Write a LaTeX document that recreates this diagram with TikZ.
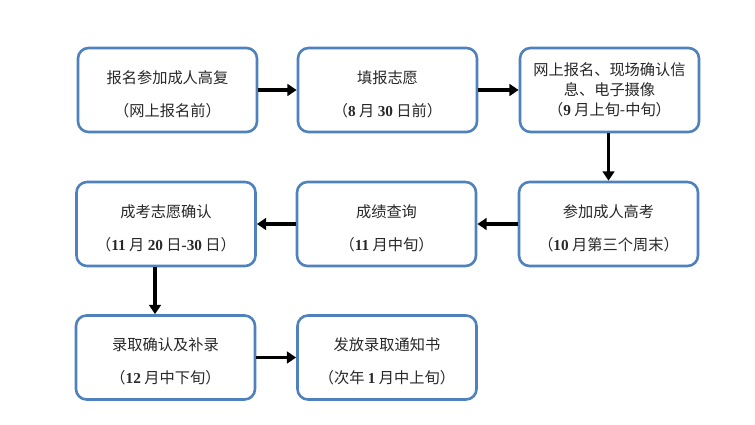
\documentclass[tikz,border=0pt]{standalone}
\usepackage{fontspec}
\setmainfont{Noto Sans CJK SC}
\newfontfamily\numfont{Liberation Serif}
\usepackage{tikz}
\usetikzlibrary{positioning, shapes, arrows.meta, calc}
\definecolor{BoxBlue}{RGB}{79, 129, 189}
\definecolor{TextGray}{RGB}{40, 40, 40}
\newcommand{\bnum}[1]{{\numfont\bfseries #1}}
\newcommand{\lift}{\rule{0pt}{18pt}}

\begin{document}
\begin{tikzpicture}[x=0.03cm, y=-0.03cm,
    stagebox/.style={draw=BoxBlue, line width=2.2pt, rounded corners=9pt, fill=white,
      minimum width=5.37cm, minimum height=2.52cm, align=center, text=TextGray,
      font=\fontsize{13}{28}\selectfont, inner sep=0pt},
    flow/.style={line width=3.2pt, -{Triangle[length=8pt, width=10pt]}}]
    \useasboundingbox (0,0) rectangle (755,425);

    % first row
    \node[stagebox] (sign) at (167.5,90) {\lift 报名参加成人高复\\（网上报名前）};
    \node[stagebox] (wish) at (387.5,90) {\lift 填报志愿\\（\bnum{8} 月 \bnum{30} 日前）};
    \node[stagebox, font=\fontsize{13}{17}\selectfont] (online) at (609.5,90)
      {网上报名、现场确认信\\息、电子摄像\\（\bnum{9} 月上旬-中旬）};

    % second row
    \node[stagebox] (confirm) at (166,224) {\lift 成考志愿确认\\（\bnum{11} 月 \bnum{20} 日\bnum{-30} 日）};
    \node[stagebox] (score) at (386.5,224) {\lift 成绩查询\\（\bnum{11} 月中旬）};
    \node[stagebox] (exam) at (608.5,224) {\lift 参加成人高考\\（\bnum{10} 月第三个周末）};

    % third row
    \node[stagebox] (admit) at (165.5,357.5) {\lift 录取确认及补录\\（\bnum{12} 月中下旬）};
    \node[stagebox] (notice) at (387,357.5) {\lift 发放录取通知书\\（次年 \bnum{1} 月中上旬）};

    \draw[flow] (sign) -- (wish);
    \draw[flow] (wish) -- (online);
    \draw[flow] (online.south -| exam.north) -- (exam);
    \draw[flow] (exam) -- (score);
    \draw[flow] (score) -- (confirm);
    \coordinate (cdown) at ($(confirm.south)+(-11,0)$);
    \draw[flow] (cdown) -- (cdown |- admit.north);
    \draw[flow] (admit) -- (notice);
  \end{tikzpicture}
\end{document}
